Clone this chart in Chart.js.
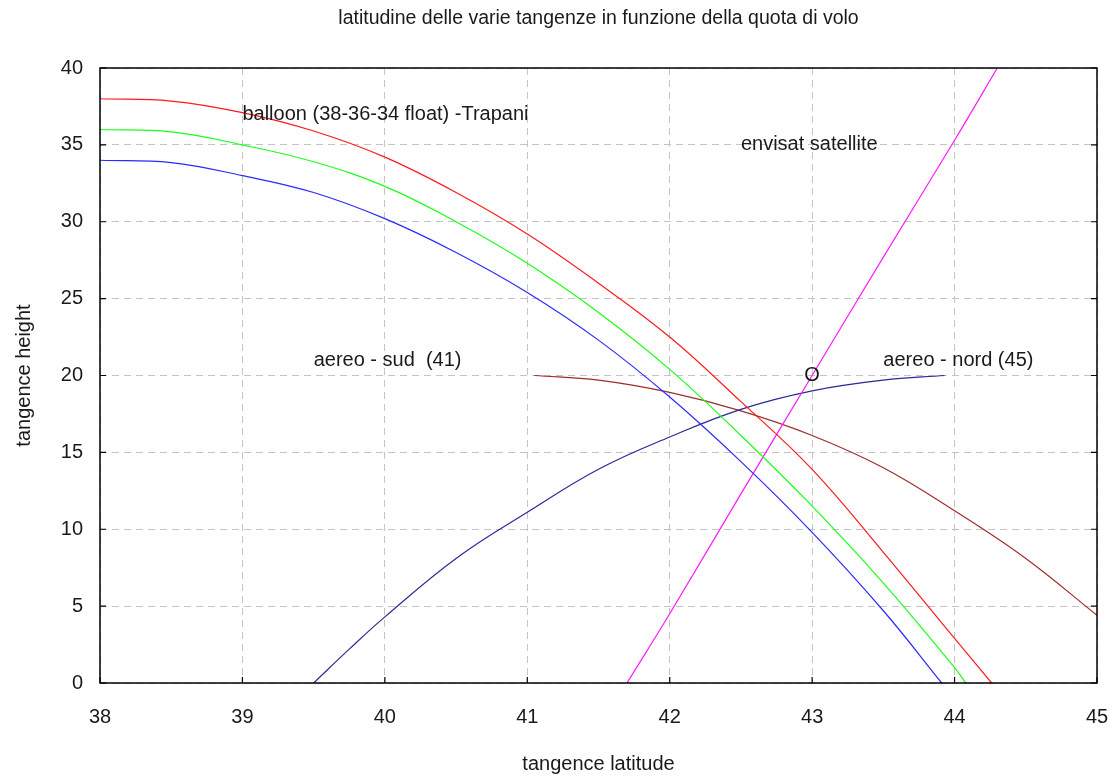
<!DOCTYPE html>
<html>
<head>
<meta charset="utf-8">
<script src="https://cdn.jsdelivr.net/npm/chart.js@4"></script>
<style>
body { margin: 0; background: #fff; }
#wrap { width: 1109px; height: 776px; }
</style>
</head>
<body>
<div id="wrap"><canvas id="chart"></canvas></div>
<script>
// tick values
const xTicks = [38, 39, 40, 41, 42, 43, 44, 45];
const yTicks = [0, 5, 10, 15, 20, 25, 30, 35, 40];

// balloon 38 km float
const latRed = [38, 38.5, 39, 39.5, 40, 40.5, 41, 41.5, 42, 42.5, 43, 43.5, 44, 44.26];
const hRed   = [38, 37.85, 37.1, 35.9, 34.2, 31.9, 29.2, 26.0, 22.5, 18.3, 13.9, 8.5, 2.9, 0];
// balloon 36 km float
const latGreen = [38, 38.5, 39, 39.5, 40, 40.5, 41, 41.5, 42, 42.5, 43, 43.5, 44, 44.08];
const hGreen   = [36, 35.85, 35.0, 33.9, 32.3, 30.0, 27.3, 24.1, 20.4, 16.1, 11.5, 6.5, 1.0, 0];
// balloon 34 km float
const latBlue = [38, 38.5, 39, 39.5, 40, 40.5, 41, 41.5, 42, 42.5, 43, 43.5, 43.91];
const hBlue   = [34, 33.85, 33.0, 31.9, 30.2, 28.0, 25.4, 22.3, 18.6, 14.4, 9.8, 4.7, 0];
// envisat
const latSat = [41.7, 42, 42.5, 43, 43.5, 44, 44.3];
const hSat   = [0, 4.5, 12.3, 20.0, 27.7, 35.3, 40];
// aereo nord
const latNord = [39.5, 39.75, 40, 40.5, 41, 41.5, 42, 42.5, 43, 43.5, 43.93];
const hNord   = [0, 2.2, 4.3, 8.1, 11.1, 13.9, 16.0, 17.8, 19.0, 19.7, 20.0];
// aereo sud
const latSud = [41.05, 41.5, 42, 42.5, 43, 43.5, 44, 44.5, 45];
const hSud   = [20.0, 19.7, 18.9, 17.7, 16.1, 14.0, 11.2, 8.1, 4.4];

// text written inside the plot
const noteText  = ['balloon (38-36-34 float) -Trapani', 'envisat satellite', 'aereo - sud  (41)', 'aereo - nord (45)', 'O'];
const noteLat   = [39.0, 42.5, 39.5, 43.5, 43.0];
const noteH     = [37.0, 35.0, 21.0, 21.0, 20.0];
const noteAlign = ['left', 'left', 'left', 'left', 'center'];

const chartTitle = 'latitudine delle varie tangenze in funzione della quota di volo';

const FONT = '"Liberation Sans", Arial, sans-serif';
const TXT = '#1a1a1a';

function pts(xs, ys) {
    return xs.map((v, i) => ({ x: v, y: ys[i] }));
}

function line(label, xs, ys, color) {
    return {
        label: label,
        data: pts(xs, ys),
        borderColor: color,
        backgroundColor: color,
        borderWidth: 1.2,
        pointRadius: 0,
        tension: 0.4,
        fill: false
    };
}

const extras = {
    id: 'extras',
    afterDatasetsDraw(chart) {
        const { ctx, chartArea: a, scales: { x, y } } = chart;
        ctx.save();
        ctx.strokeStyle = '#000';
        ctx.lineWidth = 1.5;
        ctx.strokeRect(a.left, a.top, a.right - a.left, a.bottom - a.top);
        ctx.lineWidth = 1.2;
        ctx.beginPath();
        x.ticks.forEach(t => {
            const px = x.getPixelForValue(t.value);
            ctx.moveTo(px, a.bottom);
            ctx.lineTo(px, a.bottom - 6);
        });
        y.ticks.forEach(t => {
            const py = y.getPixelForValue(t.value);
            ctx.moveTo(a.left, py);
            ctx.lineTo(a.left + 6, py);
            ctx.moveTo(a.right, py);
            ctx.lineTo(a.right - 6, py);
        });
        ctx.stroke();

        ctx.fillStyle = TXT;
        ctx.textBaseline = 'middle';
        ctx.font = '19.5px ' + FONT;
        ctx.textAlign = 'center';
        ctx.fillText(chartTitle, (a.left + a.right) / 2, 19);

        ctx.font = '20px ' + FONT;
        noteText.forEach((t, i) => {
            ctx.textAlign = noteAlign[i];
            ctx.fillText(t, x.getPixelForValue(noteLat[i]), y.getPixelForValue(noteH[i]));
        });
        ctx.restore();
    }
};

new Chart(document.getElementById('chart').getContext('2d'), {
    type: 'line',
    data: {
        datasets: [
            line('balloon 38', latRed, hRed, '#ff1a1a'),
            line('balloon 36', latGreen, hGreen, '#1aff1a'),
            line('balloon 34', latBlue, hBlue, '#2a2aff'),
            line('envisat', latSat, hSat, '#ff1aff'),
            line('aereo nord', latNord, hNord, '#2a2a96'),
            line('aereo sud', latSud, hSud, '#a02c2c')
        ]
    },
    options: {
        responsive: true,
        maintainAspectRatio: false,
        animation: false,
        layout: { padding: { left: 0, right: 12, top: 68, bottom: 0 } },
        plugins: {
            legend: { display: false },
            tooltip: { enabled: false },
            title: { display: false }
        },
        scales: {
            x: {
                type: 'linear',
                min: 38,
                max: 45,
                afterBuildTicks: s => { s.ticks = xTicks.map(v => ({ value: v })); },
                afterFit: s => { s.height = 93; s.paddingLeft = 0; s.paddingRight = 0; },
                grid: { color: '#c4c4c4', lineWidth: 1, drawTicks: false },
                border: { display: false, dash: [7, 5] },
                ticks: { color: TXT, padding: 22, font: { family: FONT, size: 20 } },
                title: {
                    display: true,
                    text: 'tangence latitude',
                    color: TXT,
                    font: { family: FONT, size: 20 },
                    padding: { top: 0, bottom: 0 }
                }
            },
            y: {
                type: 'linear',
                min: 0,
                max: 40,
                afterBuildTicks: s => { s.ticks = yTicks.map(v => ({ value: v })); },
                afterFit: s => { s.width = 100; s.paddingTop = 0; s.paddingBottom = 0; },
                grid: { color: '#c4c4c4', lineWidth: 1, drawTicks: false },
                border: { display: false, dash: [7, 5] },
                ticks: { color: TXT, padding: 17, font: { family: FONT, size: 20 } },
                title: {
                    display: true,
                    text: 'tangence height',
                    color: TXT,
                    font: { family: FONT, size: 20 },
                    padding: { top: 12, bottom: 0 }
                }
            }
        }
    },
    plugins: [extras]
});
</script>
</body>
</html>
